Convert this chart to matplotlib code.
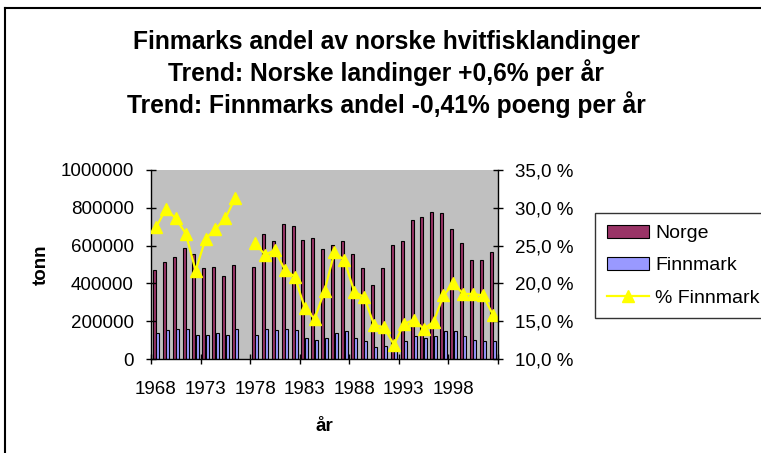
import matplotlib
matplotlib.use("Agg")
import matplotlib.pyplot as plt
import numpy as np
from matplotlib.lines import Line2D
from matplotlib.ticker import FuncFormatter

plt.rcParams['font.family'] = ['Liberation Sans', 'DejaVu Sans']

years = list(range(1968, 2003))
nan = np.nan
# tonn, 1977 missing
norge = [473000, 512000, 539000, 589000, 557000, 482000, 489000, 440000, 496000, nan,
         489000, 661000, 622000, 712000, 703000, 629000, 638000, 580000, 605000, 622000,
         555000, 482000, 390000, 482000, 604000, 622000, 735000, 751000, 777000, 770000,
         686000, 613000, 523000, 523000, 564000]
finnmark = [138000, 152000, 161000, 161000, 129000, 129000, 138000, 129000, 161000, nan,
            129000, 161000, 152000, 161000, 152000, 111000, 102000, 111000, 138000, 146000,
            111000, 93000, 64000, 71000, 75000, 97000, 120000, 111000, 120000, 146000,
            146000, 120000, 102000, 93000, 93000]
# % Finnmark
andel = [27.4, 29.8, 28.6, 26.6, 21.7, 25.9, 27.2, 28.6, 31.3, nan,
         25.3, 23.8, 24.4, 21.8, 20.9, 16.8, 15.3, 19.0, 24.1, 23.1,
         18.9, 18.2, 14.5, 14.2, 11.9, 14.6, 15.2, 14.0, 14.9, 18.4,
         20.0, 18.6, 18.6, 18.4, 15.8]

title = ("Finmarks andel av norske hvitfisklandinger\n"
         "Trend: Norske landinger +0,6% per år\n"
         "Trend: Finnmarks andel -0,41% poeng per år")

W, H = 761, 453
fig = plt.figure(figsize=(W / 100, H / 100), dpi=100)
ax = fig.add_axes([151 / W, 1 - 359 / H, 347 / W, 189 / H])
ax.set_facecolor('#C0C0C0')

x = np.arange(len(years))
bw = 0.3
ax.bar(x - 0.17, norge, bw, color='#993366', edgecolor='black', linewidth=0.8, label='Norge')
ax.bar(x + 0.17, finnmark, bw, color='#9999FF', edgecolor='black', linewidth=0.8, label='Finnmark')

ax.set_xlim(-0.5, len(years) - 0.5)
ax.set_ylim(0, 1000000)
ax.set_yticks(np.arange(0, 1000001, 200000))
ax.yaxis.set_major_formatter(FuncFormatter(lambda v, p: '%d' % v))

# ticks between categories, labels on every fifth category
ax.set_xticks(np.arange(-0.5, len(years), 5))
ax.set_xticklabels([])
ax.set_xticks(x[::5], minor=True)
ax.set_xticklabels([str(y) for y in years[::5]], minor=True)
ax.tick_params(axis='x', which='major', direction='inout', length=7, width=1)
ax.tick_params(axis='x', which='minor', length=0, pad=16, labelsize=13.5)
ax.tick_params(axis='y', direction='inout', length=7, width=1, labelsize=13.5, pad=9)

for s in ['top', 'right']:
    ax.spines[s].set_visible(False)
ax.spines['left'].set_linewidth(1)
ax.spines['bottom'].set_linewidth(1)

ax2 = ax.twinx()
ax2.plot(x, andel, color='#FFFF00', linewidth=1.6, marker='^', markersize=9,
         markerfacecolor='#FFFF00', markeredgecolor='#FFFF00', label='% Finnmark')
ax2.set_ylim(10, 35)
ax2.set_yticks(np.arange(10, 36, 5))
ax2.yaxis.set_major_formatter(FuncFormatter(lambda v, p: ('%.1f %%' % v).replace('.', ',')))
ax2.tick_params(axis='y', direction='inout', length=7, width=1, labelsize=13.5, pad=8.5)
for s in ['top', 'left', 'bottom']:
    ax2.spines[s].set_visible(False)
ax2.spines['right'].set_linewidth(1)

ax.set_ylabel('tonn', fontsize=13.5, fontweight='bold', labelpad=7.5)
ax.set_xlabel('år', fontsize=13.5, fontweight='bold', labelpad=14)

fig.text(386 / W, 1 - 74 / H, title, ha='center', va='center', fontsize=17.7,
         fontweight='bold', linespacing=1.25)

h1, l1 = ax.get_legend_handles_labels()
h2, l2 = ax2.get_legend_handles_labels()
leg = fig.legend(h1 + h2, l1 + l2, loc='upper left', bbox_to_anchor=(595 / W, 1 - 213 / H),
                 fontsize=14, frameon=True, fancybox=False, handlelength=2.2,
                 handleheight=0.7, labelspacing=0.75, borderpad=0.6, handletextpad=0.3,
                 borderaxespad=0)
leg.get_frame().set_edgecolor('black')
leg.get_frame().set_linewidth(1)

# chart border (top and left edges visible)
fig.add_artist(Line2D([5 / W, 1], [1 - 8 / H, 1 - 8 / H], color='black', linewidth=1.5))
fig.add_artist(Line2D([5 / W, 5 / W], [0, 1 - 8 / H], color='black', linewidth=1.5))

fig.savefig('out.png', dpi=100)
